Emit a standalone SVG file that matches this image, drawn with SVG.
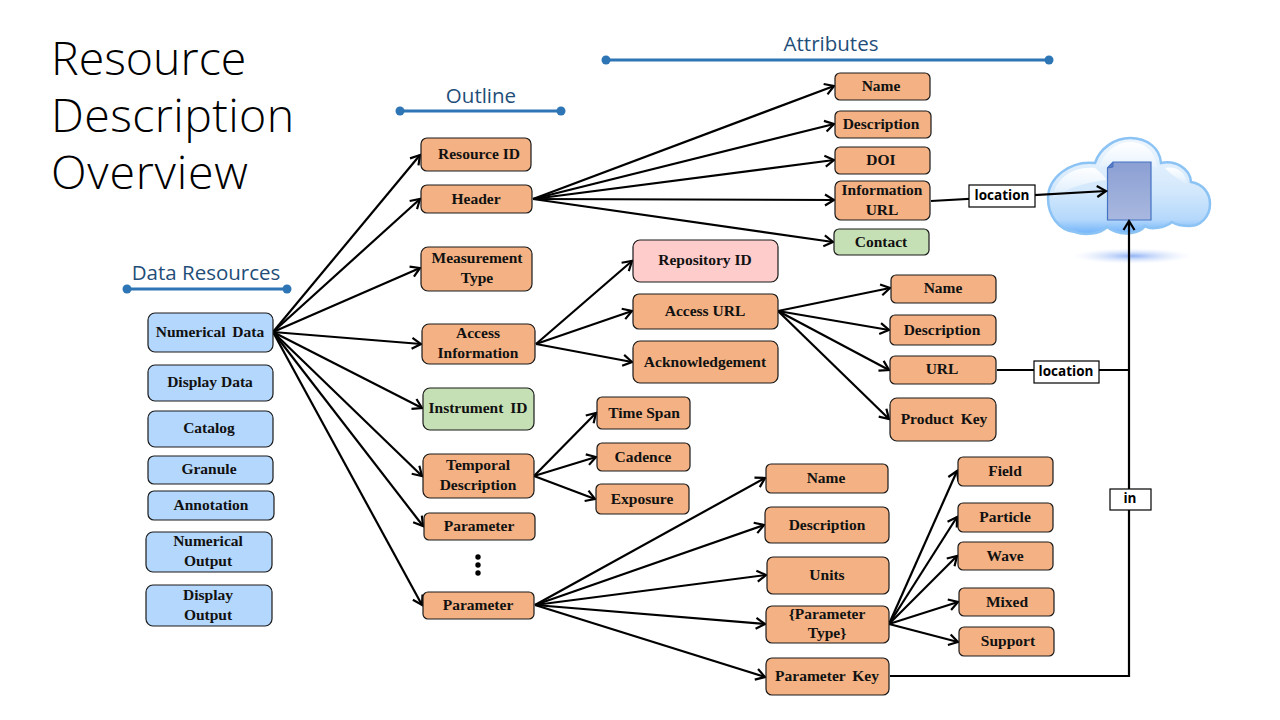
<svg xmlns="http://www.w3.org/2000/svg" width="1280" height="720" viewBox="0 0 1280 720">
<style>
.n rect{stroke:#1a1a1a;stroke-width:1.2}
.o rect{fill:#f4b183}.b rect{fill:#b4d7fe}.g rect{fill:#c5e0b4}.p rect{fill:#ffcccc}
.n text{font:bold 15.5px "Liberation Serif",serif;fill:#111;text-anchor:middle}
.h{font:20.5px "Open Sans",sans-serif;fill:#1f4e79;text-anchor:middle}
.t{font:300 46.500px "Open Sans",sans-serif;fill:#000}
.l{stroke:#2e75b6;stroke-width:3;fill:none}
.d{fill:#2e75b6}
#connectors path{fill:none;stroke:#000;stroke-width:2.2;marker-end:url(#a)}
#connectors path.x{marker-end:none}
.lb rect{fill:#fff;stroke:#000;stroke-width:1.2}
.lb text{font:bold 13.5px "Open Sans",sans-serif;fill:#000;text-anchor:middle}
</style>
<defs>
<marker id="a" markerUnits="userSpaceOnUse" markerWidth="16" markerHeight="16" refX="12" refY="8" orient="auto"><path d="M3 2.500L12 8L3 13.500" fill="none" stroke="#000" stroke-width="2.200"/></marker>
<linearGradient id="c1" x1="0" y1="0" x2="0" y2="1"><stop offset="0" stop-color="#eef6fe"/><stop offset=".55" stop-color="#d3e8fc"/><stop offset=".85" stop-color="#b4d8fb"/><stop offset="1" stop-color="#6fb2fa"/></linearGradient>
<linearGradient id="c2" x1="0" y1="0" x2="0" y2="1"><stop offset="0" stop-color="#fff" stop-opacity=".95"/><stop offset="1" stop-color="#fff" stop-opacity=".15"/></linearGradient>
<radialGradient id="s"><stop offset="0" stop-color="#8fb2f5"/><stop offset="1" stop-color="#dfe9fc" stop-opacity="0"/></radialGradient>
<linearGradient id="f" x1="0" y1="0" x2="0" y2="1"><stop offset="0" stop-color="#8b9fd3"/><stop offset="1" stop-color="#a9b8df"/></linearGradient>
</defs>

<rect width="1280" height="720" fill="#fff"/>
<text class="t" x="51" y="75">Resource</text>
<text class="t" x="51" y="132" letter-spacing=".4">Description</text>
<text class="t" x="51" y="189" letter-spacing=".75">Overview</text>

<g id="headers">
<text class="h" x="206" y="280">Data Resources</text><path class="l" d="M127 289H287"/><circle class="d" cx="127" cy="289" r="4.500"/><circle class="d" cx="287" cy="289" r="4.500"/>
<text class="h" x="481" y="103">Outline</text><path class="l" d="M400 111H561"/><circle class="d" cx="400" cy="111" r="4.500"/><circle class="d" cx="561" cy="111" r="4.500"/>
<text class="h" x="831" y="51">Attributes</text><path class="l" d="M606 60H1049"/><circle class="d" cx="606" cy="60" r="4.500"/><circle class="d" cx="1049" cy="60" r="4.500"/>
</g>

<g id="cloud">
<ellipse cx="1132" cy="256" rx="60" ry="8" fill="url(#s)"/>
<path d="M1095 163C1100 148 1115 138 1130 138C1147 138 1160 148 1161 163C1175 160 1190 168 1191 182C1203 184 1210 193 1210 204C1210 217 1200 226 1190 226C1182 226 1176 225 1172 222C1165 228 1150 230 1145 226C1140 233 1122 238 1107 227C1100 234 1085 236 1075 232C1058 230 1048 215 1048 198C1048 178 1070 160 1095 163Z" fill="url(#c1)" stroke="#8cc3f5" stroke-width="2.500"/>
<path d="M1099 168C1103 152 1117 142 1130 142C1145 142 1156 152 1157 168C1140 160 1115 160 1099 168Z" fill="url(#c2)"/>
<path d="M1053 198C1054 180 1072 166 1095 168C1100 172 1104 176 1107 180C1085 182 1068 188 1053 198Z" fill="url(#c2)"/>
<path d="M1165 168C1176 166 1186 172 1187 184C1180 180 1172 176 1165 168Z" fill="url(#c2)"/>
<path d="M1113 162H1151V220H1107.500V168Z" fill="url(#f)" stroke="#4472c4" stroke-width="1.200"/>
<path d="M1113 162L1107.500 168L1113 167Z" fill="#5f7cc0" stroke="#4472c4"/>
</g>

<g id="connectors">
<path d="M273 332L420 155"/><path d="M273 332L420 199"/><path d="M273 332L420 268"/><path d="M273 332L421 344"/><path d="M273 332L422 408"/><path d="M273 332L422 476"/><path d="M273 332L423 526"/><path d="M273 332L422 605"/>
<path d="M533 199L834 86"/><path d="M533 199L834 124"/><path d="M533 199L834 160"/><path d="M533 199L834 200"/><path d="M533 199L833 242"/>
<path d="M536 344L632 261"/><path d="M536 344L632 311"/><path d="M536 344L632 362"/>
<path d="M778 311L890 288"/><path d="M778 311L889 330"/><path d="M778 311L889 370"/><path d="M778 311L889 419"/>
<path d="M534 476L596 413"/><path d="M534 476L596 457"/><path d="M534 476L595 499"/>
<path d="M535 605L765 478"/><path d="M535 605L764 525"/><path d="M535 605L766 575"/><path d="M535 605L765 624"/><path d="M535 605L765 677"/>
<path d="M889 624L957 471"/><path d="M889 624L957 517"/><path d="M889 624L957 556"/><path d="M889 624L958 602"/><path d="M889 624L958 642"/>
<path d="M931 201L1106 191"/>
<path class="x" d="M997 370H1129"/>
<path d="M890 676H1129V221"/>
</g>

<g id="dots" fill="#000"><circle cx="478" cy="557" r="2.700"/><circle cx="478" cy="565" r="2.700"/><circle cx="478" cy="573" r="2.700"/></g>

<g id="n1" class="n b"><rect x="148" y="313" width="125" height="39" rx="7"/><text x="210" y="337" word-spacing="3">Numerical Data</text></g>
<g id="n2" class="n b"><rect x="148" y="365" width="125" height="36" rx="7"/><text x="210" y="387">Display Data</text></g>
<g id="n3" class="n b"><rect x="148" y="411" width="125" height="36" rx="7"/><text x="209" y="433">Catalog</text></g>
<g id="n4" class="n b"><rect x="148" y="456" width="125" height="28" rx="6"/><text x="209" y="474">Granule</text></g>
<g id="n5" class="n b"><rect x="148" y="491" width="126" height="29" rx="6"/><text x="211" y="510">Annotation</text></g>
<g id="n6" class="n b"><rect x="146" y="532" width="126" height="40" rx="7"/><text x="208" y="546">Numerical</text><text x="208" y="566">Output</text></g>
<g id="n7" class="n b"><rect x="146" y="585" width="126" height="41" rx="7"/><text x="208" y="600">Display</text><text x="208" y="620">Output</text></g>

<g id="o1" class="n o"><rect x="421" y="138" width="110" height="33" rx="6"/><text x="479" y="159">Resource ID</text></g>
<g id="o2" class="n o"><rect x="421" y="185" width="111" height="28" rx="6"/><text x="476" y="204">Header</text></g>
<g id="o3" class="n o"><rect x="421" y="247" width="111" height="44" rx="7"/><text x="477" y="263">Measurement</text><text x="477" y="283">Type</text></g>
<g id="o4" class="n o"><rect x="422" y="324" width="113" height="40" rx="7"/><text x="478" y="338">Access</text><text x="478" y="358">Information</text></g>
<g id="o5" class="n g"><rect x="423" y="388" width="111" height="42" rx="7"/><text x="478" y="413" word-spacing="3">Instrument ID</text></g>
<g id="o6" class="n o"><rect x="423" y="454" width="111" height="44" rx="7"/><text x="478" y="470">Temporal</text><text x="478" y="490">Description</text></g>
<g id="o7" class="n o"><rect x="424" y="513" width="111" height="27" rx="5"/><text x="479" y="531">Parameter</text></g>
<g id="o8" class="n o"><rect x="423" y="592" width="111" height="27" rx="5"/><text x="478" y="610">Parameter</text></g>

<g id="a1" class="n o"><rect x="835" y="73" width="95" height="27" rx="5"/><text x="881" y="91">Name</text></g>
<g id="a2" class="n o"><rect x="835" y="111" width="96" height="27" rx="5"/><text x="881" y="129">Description</text></g>
<g id="a3" class="n o"><rect x="835" y="147" width="95" height="27" rx="5"/><text x="881" y="165">DOI</text></g>
<g id="a4" class="n o"><rect x="835" y="181" width="95" height="39" rx="6"/><text x="882" y="195">Information</text><text x="882" y="215">URL</text></g>
<g id="a5" class="n g"><rect x="834" y="229" width="95" height="26" rx="5"/><text x="881" y="247">Contact</text></g>

<g id="r1" class="n p"><rect x="633" y="240" width="145" height="42" rx="7"/><text x="705" y="265">Repository ID</text></g>
<g id="r2" class="n o"><rect x="633" y="294" width="145" height="35" rx="6"/><text x="705" y="316">Access URL</text></g>
<g id="r3" class="n o"><rect x="633" y="341" width="145" height="42" rx="7"/><text x="705" y="367">Acknowledgement</text></g>

<g id="u1" class="n o"><rect x="891" y="275" width="105" height="28" rx="5"/><text x="943" y="293">Name</text></g>
<g id="u2" class="n o"><rect x="890" y="315" width="106" height="30" rx="5"/><text x="942" y="335">Description</text></g>
<g id="u3" class="n o"><rect x="890" y="356" width="106" height="28" rx="5"/><text x="942" y="374">URL</text></g>
<g id="u4" class="n o"><rect x="890" y="398" width="106" height="43" rx="7"/><text x="944" y="424" word-spacing="3">Product Key</text></g>

<g id="s1" class="n o"><rect x="597" y="397" width="93" height="32" rx="5"/><text x="644" y="418">Time Span</text></g>
<g id="s2" class="n o"><rect x="597" y="443" width="93" height="28" rx="5"/><text x="643" y="462">Cadence</text></g>
<g id="s3" class="n o"><rect x="596" y="484" width="93" height="30" rx="5"/><text x="642" y="504">Exposure</text></g>

<g id="p1" class="n o"><rect x="766" y="464" width="122" height="29" rx="5"/><text x="826" y="483">Name</text></g>
<g id="p2" class="n o"><rect x="765" y="507" width="124" height="36" rx="6"/><text x="827" y="530">Description</text></g>
<g id="p3" class="n o"><rect x="767" y="557" width="122" height="37" rx="6"/><text x="827" y="580">Units</text></g>
<g id="p4" class="n o"><rect x="766" y="606" width="123" height="37" rx="6"/><text x="827" y="619">{Parameter</text><text x="827" y="638">Type}</text></g>
<g id="p5" class="n o"><rect x="766" y="658" width="123" height="37" rx="6"/><text x="827" y="681" word-spacing="3">Parameter Key</text></g>

<g id="t1" class="n o"><rect x="958" y="457" width="95" height="29" rx="5"/><text x="1005" y="476">Field</text></g>
<g id="t2" class="n o"><rect x="958" y="503" width="95" height="29" rx="5"/><text x="1005" y="522">Particle</text></g>
<g id="t3" class="n o"><rect x="958" y="542" width="95" height="28" rx="5"/><text x="1005" y="561">Wave</text></g>
<g id="t4" class="n o"><rect x="959" y="588" width="95" height="28" rx="5"/><text x="1007" y="607">Mixed</text></g>
<g id="t5" class="n o"><rect x="959" y="627" width="95" height="29" rx="5"/><text x="1008" y="646">Support</text></g>

<g id="l1" class="lb"><rect x="969" y="185" width="66" height="22"/><text x="1002" y="200">location</text></g>
<g id="l2" class="lb"><rect x="1034" y="361" width="65" height="22"/><text x="1066" y="376">location</text></g>
<g id="l3" class="lb"><rect x="1110" y="489" width="41" height="21"/><text x="1130" y="503">in</text></g>
</svg>
